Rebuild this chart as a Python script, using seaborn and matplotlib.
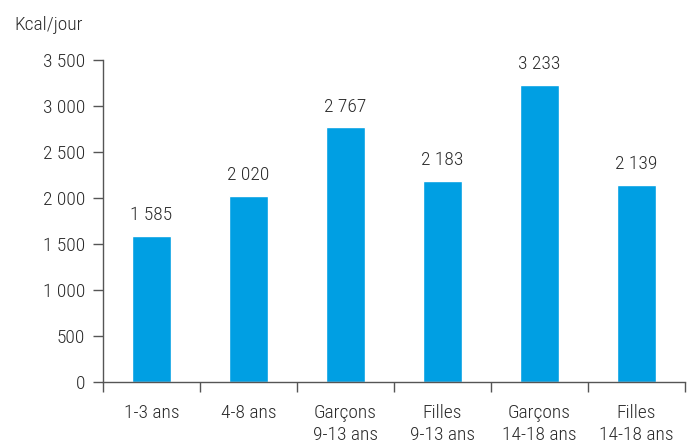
import matplotlib
matplotlib.use("Agg")
import matplotlib.pyplot as plt
import matplotlib.font_manager as fm
from matplotlib.ticker import FixedLocator, FuncFormatter
import seaborn as sns
import pandas as pd

categories = ["1-3 ans", "4-8 ans", "Garçons\n9-13 ans", "Filles\n9-13 ans",
              "Garçons\n14-18 ans", "Filles\n14-18 ans"]
values = [1585, 2020, 2767, 2183, 3233, 2139]
y_ticks = [0, 500, 1000, 1500, 2000, 2500, 3000, 3500]

sns.set_theme(style="white")
names = {f.name for f in fm.fontManager.ttflist}
fam = "DejaVu Sans"
for cand in ["Roboto Condensed", "Liberation Sans Narrow", "Archivo Narrow",
             "Barlow Condensed", "Asap Condensed"]:
    if cand in names:
        fam = cand
        break
plt.rcParams["font.family"] = [fam, "DejaVu Sans"]
plt.rcParams["font.weight"] = "light"

df = pd.DataFrame({"cat": categories, "val": values})

fig = plt.figure(figsize=(6.93, 4.48), dpi=100)
ax = fig.add_axes([0.1486, 0.1473, 0.8399, 0.7187])
sns.barplot(data=df, x="cat", y="val", color="#009FE3", width=0.4,
            saturation=1, ax=ax)

def fmt(v):
    return f"{int(v):,}".replace(",", " ")

txt = "#2b2b2b"
fs = 14
for i, v in enumerate(values):
    ax.text(i, v + 130, fmt(v), ha="center", va="bottom", fontsize=fs, color=txt)

ax.set_xlim(-0.5, len(categories) - 0.5)
ax.set_ylim(0, 3500)
ax.set_yticks(y_ticks)
ax.yaxis.set_major_formatter(FuncFormatter(lambda v, p: fmt(v)))
ax.set_xlabel("")
ax.set_ylabel("")

for s in ["top", "right"]:
    ax.spines[s].set_visible(False)
for s in ["left", "bottom"]:
    ax.spines[s].set_color("#555555")
    ax.spines[s].set_linewidth(1.0)

ax.xaxis.set_minor_locator(FixedLocator([i - 0.5 for i in range(len(categories) + 1)]))
ax.tick_params(axis="x", which="major", length=0, pad=16, labelsize=fs, labelcolor=txt)
ax.tick_params(axis="x", which="minor", length=7, width=1, color="#555555", direction="out", bottom=True)
ax.tick_params(axis="y", which="major", length=7, width=1, color="#555555", direction="out",
               left=True, labelsize=fs, labelcolor=txt, pad=6)
for lab in ax.get_xticklabels():
    lab.set_linespacing(1.3)

fig.text(14 / 693, 1 - 25 / 448, "Kcal/jour", fontsize=fs, color=txt, va="center", ha="left")

fig.savefig("out.png", dpi=100)
